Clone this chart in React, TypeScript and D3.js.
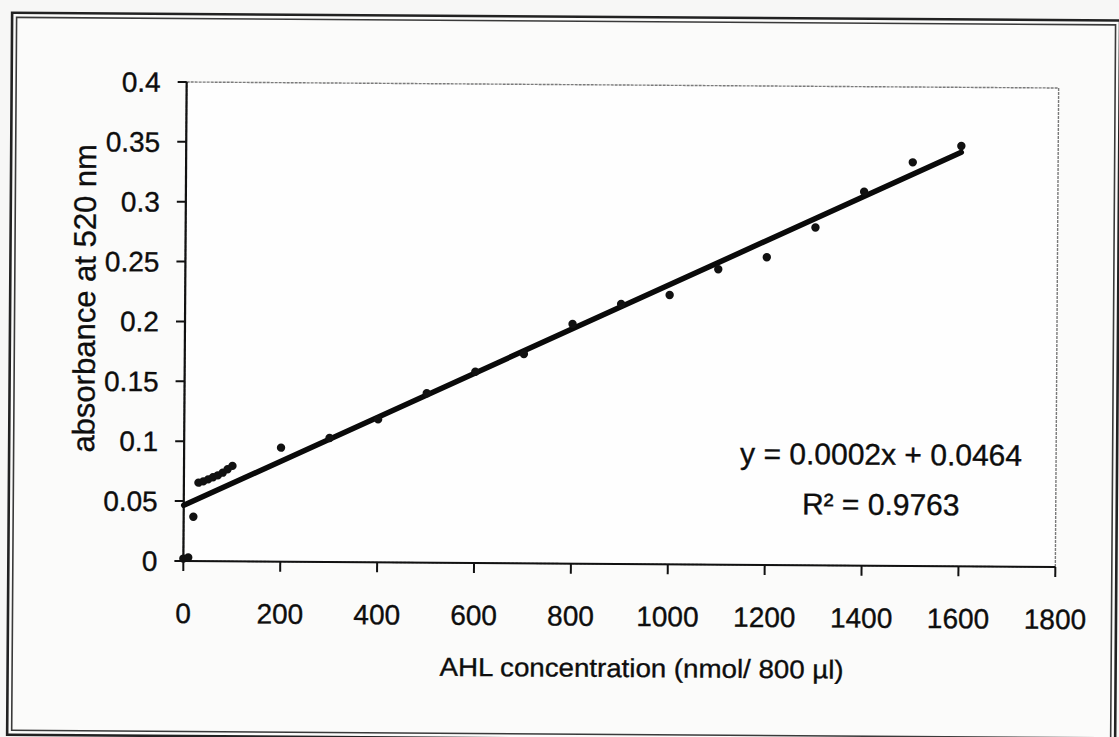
import React from 'react';
import * as d3 from 'd3';

// AHL concentration (nmol / 800 µl)
const concentrations = [
  0, 10, 20, 30, 40, 50, 60, 70, 80, 90, 100,
  200, 300, 400, 500, 600, 700, 800, 900, 1000, 1100, 1200, 1300, 1400, 1500, 1600,
];
// absorbance at 520 nm
const absorbance = [
  0.002, 0.003, 0.037, 0.0655, 0.0666, 0.0683, 0.0701, 0.0717, 0.074, 0.0768, 0.0797,
  0.0952, 0.1035, 0.1194, 0.1415, 0.1597, 0.1748, 0.2001, 0.2171, 0.2249, 0.2467, 0.257,
  0.2821, 0.3123, 0.3371, 0.351,
];
const xTicks = [0, 200, 400, 600, 800, 1000, 1200, 1400, 1600, 1800];
const yTicks = [0, 0.05, 0.1, 0.15, 0.2, 0.25, 0.3, 0.35, 0.4];
const yTickLabels = ['0', '0.05', '0.1', '0.15', '0.2', '0.25', '0.3', '0.35', '0.4'];
const xTitle = 'AHL concentration (nmol/  800 \u00B5l)';
const yTitle = 'absorbance at 520 nm';
const equationText = 'y = 0.0002x + 0.0464';
const r2Text = 'R\u00B2 = 0.9763';

const W = 1119;
const H = 737;
const L = 185, R = 1057, T = 85, B = 564;
const FONT = '"Liberation Sans", Arial, sans-serif';
const INK = '#0d0d0d';

export default function App() {
  const x = d3.scaleLinear().domain([0, 1800]).range([L, R]);
  const y = d3.scaleLinear().domain([0, 0.4]).range([B, T]);

  // least-squares trendline from the data
  const mx = d3.mean(concentrations) as number;
  const my = d3.mean(absorbance) as number;
  let sxy = 0, sxx = 0;
  concentrations.forEach((c, i) => {
    sxy += (c - mx) * (absorbance[i] - my);
    sxx += (c - mx) * (c - mx);
  });
  const slope = sxy / sxx;
  const intercept = my - slope * mx;
  const xMin = d3.min(concentrations) as number;
  const xMax = d3.max(concentrations) as number;
  const line = d3.line<number>().x((d) => x(d)).y((d) => y(intercept + slope * d));

  const textProps = { fontFamily: FONT, fill: INK, stroke: INK, strokeWidth: 0.35 };

  return (
    <div style={{ position: 'absolute', left: 0, top: 0, width: W, height: H, overflow: 'hidden' }}>
      <svg width={W} height={H} style={{ display: 'block', background: '#f7f7f6' }}>
        <g transform="rotate(0.395, 621, 324)">
          {/* outer frame (double line) */}
          <rect x={10} y={17} width={1108} height={722} fill="#fbfbfa" stroke="#222" strokeWidth={2.6} />
          <rect x={14.5} y={21.5} width={1099} height={713} fill="none" stroke="#3a3a3a" strokeWidth={1.6} />
          {/* plot area */}
          <rect x={L} y={T} width={R - L} height={B - T} fill="#fefefe" stroke="#7a7a7a" strokeWidth={1.4} strokeDasharray="3 1" />
          {/* axes */}
          <line x1={L} y1={T} x2={L} y2={B} stroke="#111" strokeWidth={2.2} />
          <line x1={L} y1={B} x2={R} y2={B} stroke="#111" strokeWidth={2.2} />
          {yTicks.map((t, i) => (
            <g key={'y' + i}>
              <line x1={L - 9} x2={L} y1={y(t)} y2={y(t)} stroke="#111" strokeWidth={2} />
              <text x={L - 26} y={y(t)} dy="0.36em" textAnchor="end" fontSize={28} {...textProps}>
                {yTickLabels[i]}
              </text>
            </g>
          ))}
          {xTicks.map((t) => (
            <g key={'x' + t}>
              <line x1={x(t)} x2={x(t)} y1={B} y2={B + 10} stroke="#111" strokeWidth={2} />
              <text x={x(t)} y={B + 62} textAnchor="middle" fontSize={28} {...textProps}>
                {t}
              </text>
            </g>
          ))}
          {/* titles */}
          <text
            x={644}
            y={677}
            textAnchor="middle"
            fontSize={26}
            textLength={404}
            lengthAdjust="spacingAndGlyphs"
            {...textProps}
          >
            {xTitle}
          </text>
          <text
            transform={`translate(95, 302) rotate(-90)`}
            textAnchor="middle"
            fontSize={31}
            {...textProps}
          >
            {yTitle}
          </text>
          {/* trendline */}
          <path d={line([xMin, xMax]) || ''} fill="none" stroke="#0a0a0a" strokeWidth={5.5} strokeLinecap="round" />
          {/* points */}
          {concentrations.map((c, i) => (
            <circle key={'p' + i} cx={x(c)} cy={y(absorbance[i])} r={4.2} fill="#111" />
          ))}
          {/* equation */}
          <text x={882} y={463} textAnchor="middle" fontSize={30} {...textProps}>
            {equationText}
          </text>
          <text x={882} y={513} textAnchor="middle" fontSize={30} {...textProps}>
            {r2Text}
          </text>
        </g>
      </svg>
    </div>
  );
}
